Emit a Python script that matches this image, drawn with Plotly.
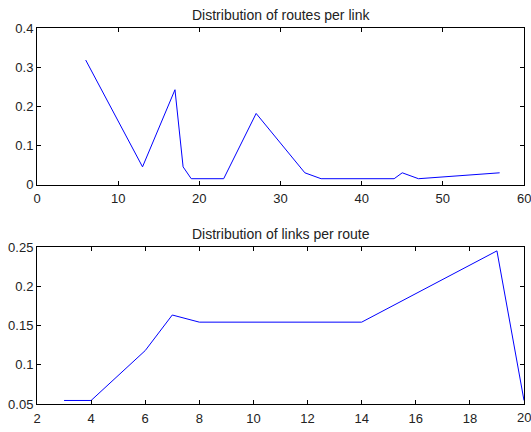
import plotly.graph_objects as go
from plotly.subplots import make_subplots

# Distribution of routes per link
routes_x = [6, 13, 17, 18, 19, 23, 27, 33, 35, 44, 45, 47, 57]
routes_y = [0.3182, 0.0455, 0.2424, 0.0455, 0.0152, 0.0152, 0.1818, 0.0303, 0.0152, 0.0152, 0.0303, 0.0152, 0.0303]

# Distribution of links per route
links_x = [3, 4, 6, 7, 8, 14, 19, 20]
links_y = [0.0545, 0.0545, 0.1182, 0.1636, 0.1545, 0.1545, 0.2455, 0.0545]

top_xticks = [0, 10, 20, 30, 40, 50, 60]
top_yticks = [0, 0.1, 0.2, 0.3, 0.4]
top_ylabels = ["0", "0.1", "0.2", "0.3", "0.4"]
bot_xticks = [2, 4, 6, 8, 10, 12, 14, 16, 18, 20]
bot_yticks = [0.05, 0.1, 0.15, 0.2, 0.25]
bot_ylabels = ["0.05", "0.1", "0.15", "0.2", "0.25"]

top_title = "Distribution of routes per link"
bottom_title = "Distribution of links per route"

fig = make_subplots(rows=2, cols=1, vertical_spacing=64/384)

fig.add_trace(go.Scatter(x=routes_x, y=routes_y, mode="lines",
                         line=dict(color="#0000ff", width=1), showlegend=False), row=1, col=1)
fig.add_trace(go.Scatter(x=links_x, y=links_y, mode="lines",
                         line=dict(color="#0000ff", width=1), showlegend=False), row=2, col=1)

axis_common = dict(showline=True, linecolor="black", linewidth=1, mirror="ticks",
                   ticks="inside", ticklen=4, tickcolor="black", showgrid=False,
                   zeroline=False, tickfont=dict(size=13, color="#222222"))

fig.update_xaxes(range=[0, 60], tickvals=top_xticks, ticklabelstandoff=2, row=1, col=1, **axis_common)
fig.update_yaxes(range=[0, 0.4], tickvals=top_yticks, ticktext=top_ylabels, row=1, col=1, **axis_common)
fig.update_xaxes(range=[2, 20], tickvals=bot_xticks, ticklabelstandoff=2, row=2, col=1, **axis_common)
fig.update_yaxes(range=[0.05, 0.25], tickvals=bot_yticks, ticktext=bot_ylabels, row=2, col=1, **axis_common)

# last x tick labels run past the right edge, as in the original; draw them as annotations
edge_labels = [
    dict(text=str(top_xticks[-1]), x=top_xticks[-1], xref="x", y=top_yticks[0], yref="y",
         yanchor="top", yshift=-4, showarrow=False, font=dict(size=13, color="#222222")),
    dict(text=str(bot_xticks[-1]), x=bot_xticks[-1], xref="x2", y=bot_yticks[0], yref="y2",
         yanchor="top", yshift=-4, showarrow=False, font=dict(size=13, color="#222222")),
]

fig.update_layout(
    width=531, height=432,
    margin=dict(l=37, r=6, t=28, b=20),
    paper_bgcolor="white", plot_bgcolor="white",
    font=dict(family="Liberation Sans, Arial, sans-serif", size=13, color="#222222"),
    annotations=[
        dict(text=top_title, x=0.5, xref="paper", y=1, yref="paper", yanchor="bottom",
             yshift=3, showarrow=False, font=dict(size=14)),
        dict(text=bottom_title, x=0.5, xref="paper", y=160/384, yref="paper", yanchor="bottom",
             yshift=3, showarrow=False, font=dict(size=14)),
    ] + edge_labels,
)

fig.write_html("out.html", config={"displayModeBar": False},
               post_script="document.body.style.margin='0';document.body.style.overflow='hidden';")
